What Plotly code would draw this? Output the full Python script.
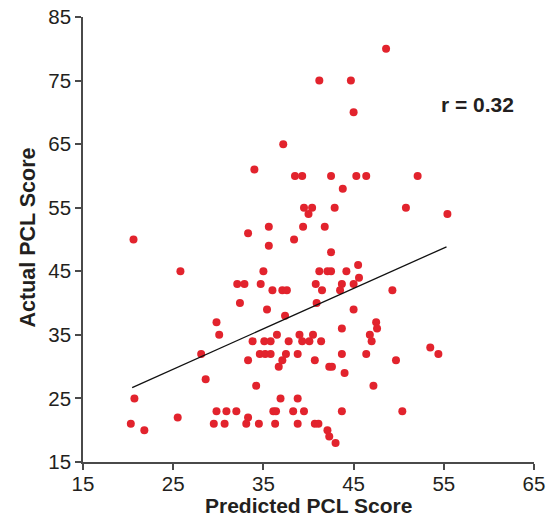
import plotly.graph_objects as go

# Predicted (x) and actual (y) PCL scores
predicted = [48.6, 41.2, 44.7, 45.0, 37.2, 34.0, 38.5, 39.3, 42.5, 45.3, 46.4, 52.1,
             43.8, 39.5, 40.4, 42.9, 50.8, 40.0, 55.4, 33.3, 35.6, 39.4, 41.8, 20.6,
             38.4, 35.6, 42.5, 45.5, 25.8, 35.0, 41.2, 42.1, 42.5, 44.2, 45.6, 32.1,
             32.9, 34.7, 40.8, 43.7, 45.0, 36.0, 37.1, 37.6, 41.5, 43.5, 49.3, 32.4,
             40.9, 35.4, 45.0, 37.4, 29.8, 47.5, 43.7, 47.6, 30.1, 36.5, 39.0, 40.5,
             46.8, 33.8, 35.1, 35.8, 37.8, 39.3, 40.1, 41.4, 47.0, 53.5, 28.1, 34.6,
             35.2, 35.8, 37.5, 38.8, 43.7, 46.4, 54.4, 33.3, 37.1, 40.7, 49.7, 36.7,
             42.3, 42.6, 44.0, 28.6, 34.2, 47.2, 20.7, 36.9, 38.8, 29.8, 30.9, 32.0,
             36.1, 36.4, 38.3, 39.5, 43.7, 50.4, 25.5, 33.3, 20.3, 29.5, 30.7, 33.1,
             34.5, 36.3, 38.8, 40.7, 41.1, 21.8, 42.1, 42.3, 43.0]
actual = [80, 75, 75, 70, 65, 61, 60, 60, 60, 60, 60, 60,
          58, 55, 55, 55, 55, 54, 54, 51, 52, 52, 52, 50,
          50, 49, 48, 46, 45, 45, 45, 45, 45, 45, 44, 43,
          43, 43, 43, 43, 43, 42, 42, 42, 42, 42, 42, 40,
          40, 39, 39, 38, 37, 37, 36, 36, 35, 35, 35, 35,
          35, 34, 34, 34, 34, 34, 34, 34, 34, 33, 32, 32,
          32, 32, 32, 32, 32, 32, 32, 31, 31, 31, 31, 30,
          30, 30, 29, 28, 27, 27, 25, 25, 25, 23, 23, 23,
          23, 23, 23, 23, 23, 23, 22, 22, 21, 21, 21, 21,
          21, 21, 21, 21, 21, 20, 20, 19, 18]

# Regression line end points
fit_x = [20.45, 55.3]
fit_y = [26.7, 48.85]

tick_vals = [15, 25, 35, 45, 55, 65]
y_tick_vals = [15, 25, 35, 45, 55, 65, 75, 85]
r_label = "r = 0.32"
x_title = "Predicted PCL Score"
y_title = "Actual PCL Score"

FONT = "Liberation Sans, Arial, Helvetica, sans-serif"
TXT = "#231f20"
AX = "#4a4a4a"

fig = go.Figure()
fig.add_trace(go.Scatter(x=predicted, y=actual, mode="markers",
                         marker=dict(size=8, color="#e2232d", line=dict(width=0)),
                         showlegend=False, hoverinfo="x+y"))
fig.add_trace(go.Scatter(x=fit_x, y=fit_y, mode="lines",
                         line=dict(color="#111111", width=1.3),
                         showlegend=False, hoverinfo="skip"))

axis_common = dict(showgrid=False, zeroline=False, showline=True, linecolor=AX,
                   linewidth=1.5, ticks="outside", ticklen=6, tickwidth=1.5,
                   tickcolor=AX, automargin=False,
                   tickfont=dict(family=FONT, size=20.5, color=TXT))

fig.update_xaxes(range=[15, 65], tickvals=tick_vals, ticklabelstandoff=-3,
                 **axis_common)
fig.update_yaxes(range=[15, 85], tickvals=y_tick_vals, **axis_common)

fig.add_annotation(text="<b>%s</b>" % r_label, xref="paper", yref="paper",
                   x=(477 - 83) / 451, y=(462 - 104) / 445, xanchor="center",
                   yanchor="middle", showarrow=False,
                   font=dict(family=FONT, size=21, color=TXT))
fig.add_annotation(text="<b>%s</b>" % x_title, xref="paper", yref="paper",
                   x=0.5, y=(462 - 518.5) / 445, xanchor="center", yanchor="bottom",
                   showarrow=False, font=dict(family=FONT, size=21, color=TXT))
fig.add_annotation(text="<b>%s</b>" % y_title, xref="paper", yref="paper",
                   x=(27 - 83) / 451, y=(462 - 237.5) / 445, xanchor="center",
                   yanchor="middle", textangle=-90, showarrow=False,
                   font=dict(family=FONT, size=21.5, color=TXT))

fig.update_layout(width=557, height=519, autosize=False,
                  margin=dict(l=83, r=23, t=17, b=57, pad=0, autoexpand=False),
                  plot_bgcolor="white", paper_bgcolor="white",
                  font=dict(family=FONT, color=TXT))

fig.write_html("out.html", config={"displayModeBar": False},
               post_script="document.body.style.margin='0px';"
                           "document.body.style.padding='0px';"
                           "document.body.style.overflow='hidden';")
